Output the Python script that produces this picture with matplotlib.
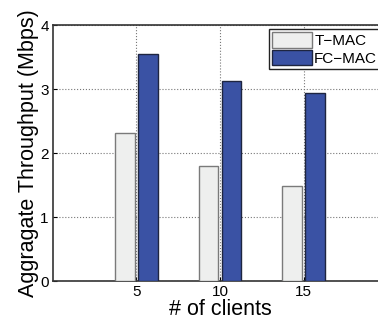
import numpy as np
import matplotlib.pyplot as plt

plt.rcParams['font.family'] = ['Liberation Sans', 'DejaVu Sans']

clients = [5, 10, 15]
tmac = [2.31, 1.80, 1.48]
fcmac = [3.55, 3.13, 2.94]


def main():
    fig = plt.figure(figsize=(3.78, 3.22), dpi=100)
    ax = fig.add_axes([0.140, 0.127, 0.884, 0.795])

    x = np.array(clients, dtype=float)
    w = 1.15
    ax.bar(x - 0.69, tmac, w, color='#eeefee', edgecolor='#7a7a7a', linewidth=1.0, label='T\u2212MAC', zorder=3)
    ax.bar(x + 0.69, fcmac, w, color='#3a52a4', edgecolor='#1e2540', linewidth=1.0, label='FC\u2212MAC', zorder=3)

    ax.set_xlim(0, 20)
    ax.set_ylim(0, 4)
    ax.set_xticks(clients)
    ax.set_yticks([0, 1, 2, 3, 4])
    ax.grid(True, linestyle=':', color='#777777', linewidth=0.8, zorder=0)
    ax.tick_params(direction='in', length=3, labelsize=11, pad=3)
    for s in ax.spines.values():
        s.set_linewidth(1.2)
        s.set_color('#333333')

    ax.set_xlabel('# of clients', fontsize=15.5, labelpad=0)
    ax.set_ylabel('Aggragate Throughput (Mbps)', fontsize=15.5, labelpad=1)

    leg = ax.legend(loc='upper left', bbox_to_anchor=(0.647, 0.984), fontsize=11,
                    fancybox=False, framealpha=1, edgecolor='#222222',
                    handlelength=2.6, handleheight=1.2, handletextpad=0.15,
                    borderpad=0.2, labelspacing=0.1, borderaxespad=0)
    leg.get_frame().set_linewidth(1.0)

    fig.savefig('out.png', dpi=100)


if __name__ == '__main__':
    main()
